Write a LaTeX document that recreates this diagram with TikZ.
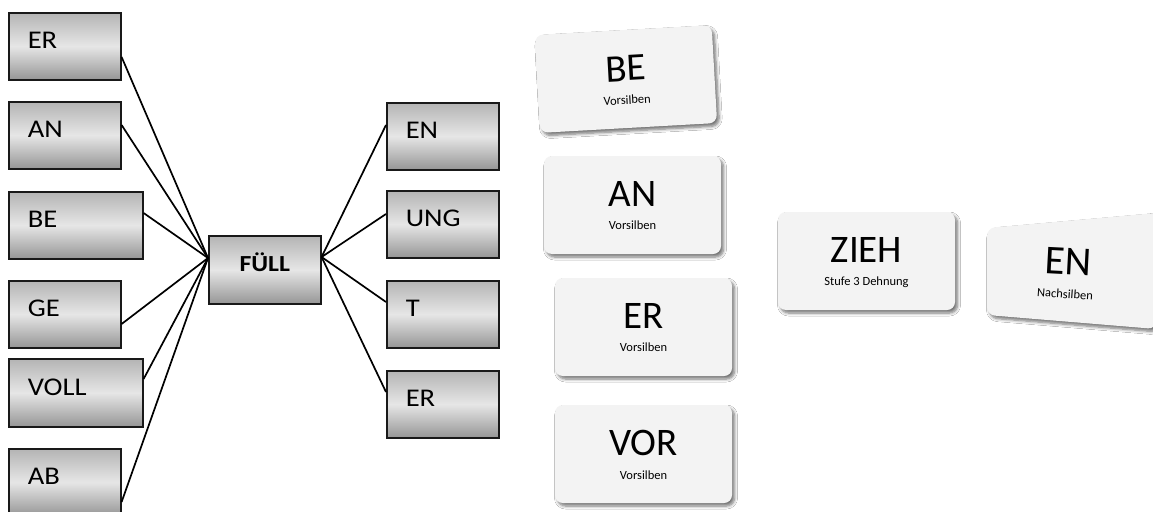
\documentclass[tikz,border=0pt]{standalone}
\usepackage{fontspec}
\setmainfont{Carlito}
\newfontfamily\boxfont{Carlito}[FakeStretch=1.12]
\usetikzlibrary{shadows.blur}

\definecolor{boxtop}{RGB}{180,180,180}
\definecolor{boxmid}{RGB}{230,230,230}
\definecolor{boxbot}{RGB}{150,150,150}
\definecolor{cardfill}{RGB}{243,243,243}
\definecolor{frame}{RGB}{25,25,25}

\tikzset{
  syl/.style={draw=frame, line width=1.6pt, top color=boxtop, bottom color=boxbot,
    middle color=boxmid, anchor=north west, minimum height=67pt, inner xsep=19pt,
    inner ysep=0pt, text width=#1, align=left, text height=16pt, text depth=11pt,
    font=\boxfont\fontsize{25.5}{25.5}\selectfont},
  syl/.default=74pt,
  link/.style={line width=1.7pt, draw=black},
  card/.style={fill=cardfill, rounded corners=8pt, minimum width=177pt,
    minimum height=98pt, inner sep=0pt,
    blur shadow={shadow xshift=2.5pt, shadow yshift=-3pt, shadow blur radius=3pt,
      shadow blur steps=6, shadow opacity=55}},
  big/.style={font=\fontsize{39}{39}\selectfont, inner sep=0pt},
  small/.style={font=\fontsize{12.5}{12.5}\selectfont, inner sep=0pt,
    text height=8.5pt, text depth=0pt},
}

\begin{document}
\begin{tikzpicture}[x=1pt, y=-1pt]
\useasboundingbox (0,0) rectangle (1153,511);
\fill[white] (0,0) rectangle (1153,511);

% prefixes on the left
\node[syl]        (erL)   at (8,12)  {ER};
\node[syl]        (anL)   at (8,101) {AN};
\node[syl=96pt]   (beL)   at (8,191) {BE};
\node[syl]        (geL)   at (8,280) {GE};
\node[syl=96pt, minimum height=68pt] (vollL) at (8,358) {VOLL};
\node[syl]        (abL)   at (8,448) {AB};

% word stem
\node[syl, align=center, minimum height=68pt, text height=14.5pt, text depth=12pt,
      font=\boxfont\bfseries\fontsize{23}{23}\selectfont] (full) at (208,235) {FÜLL};

% suffixes on the right
\node[syl] (enR)  at (386,102) {EN};
\node[syl] (ungR) at (386,190) {UNG};
\node[syl] (tR)   at (386,280) {T};
\node[syl] (erR)  at (386,370) {ER};

% connectors
\coordinate (fullL) at ([yshift=-23pt]full.north west);
\coordinate (fullR) at ([yshift=-22pt]full.north east);
\draw[link] ([yshift=-45pt]erL.north east)   -- (fullL);
\draw[link] ([yshift=-24pt]anL.north east)   -- (fullL);
\draw[link] ([yshift=-22pt]beL.north east)   -- (fullL);
\draw[link] ([yshift=-44pt]geL.north east)   -- (fullL);
\draw[link] ([yshift=-21pt]vollL.north east) -- (fullL);
\draw[link] ([yshift=-54pt]abL.north east)   -- (fullL);
\draw[link] (fullR) -- ([yshift=-23pt]enR.north west);
\draw[link] (fullR) -- ([yshift=-24pt]ungR.north west);
\draw[link] (fullR) -- ([yshift=-22pt]tR.north west);
\draw[link] (fullR) -- ([yshift=-22pt]erR.north west);

% syllable cards
\begin{scope}[shift={(626,79)}, rotate=3.2, transform shape]
  \node[card]  (cardBE)     at (0,0)     {};
  \node[big]   (cardBEword) at (0,-10.5) {BE};
  \node[small] (cardBEnote) at (0,21)    {Vorsilben};
\end{scope}
\begin{scope}[shift={(632.5,205)}]
  \node[card]  (cardAN)     at (0,0)   {};
  \node[big]   (cardANword) at (0,-11) {AN};
  \node[small] (cardANnote) at (0,20)  {Vorsilben};
\end{scope}
\begin{scope}[shift={(643.5,327)}]
  \node[card]  (cardER)     at (0,0)   {};
  \node[big]   (cardERword) at (0,-11) {ER};
  \node[small] (cardERnote) at (0,20)  {Vorsilben};
\end{scope}
\begin{scope}[shift={(643.5,454)}]
  \node[card]  (cardVOR)     at (0,0)   {};
  \node[big]   (cardVORword) at (0,-11) {VOR};
  \node[small] (cardVORnote) at (0,21)  {Vorsilben};
\end{scope}
\begin{scope}[shift={(866.5,261)}]
  \node[card]  (cardZIEH)     at (0,0)   {};
  \node[big]   (cardZIEHword) at (0,-11) {ZIEH};
  \node[small] (cardZIEHnote) at (0,20)  {Stufe 3 Dehnung};
\end{scope}

% suffix card seen at a slant
\path[fill=cardfill, rounded corners=8pt,
      blur shadow={shadow xshift=2.5pt, shadow yshift=-3pt, shadow blur radius=3pt,
        shadow blur steps=6, shadow opacity=55}]
  (987,228) -- (1156,213) -- (1156,329) -- (987,315) -- cycle;
\node[big, font=\fontsize{41}{41}\selectfont, rotate=-3] (cardENword) at (1068,262) {EN};
\node[small, rotate=-4] (cardENnote) at (1065,294) {Nachsilben};
\end{tikzpicture}
\end{document}
